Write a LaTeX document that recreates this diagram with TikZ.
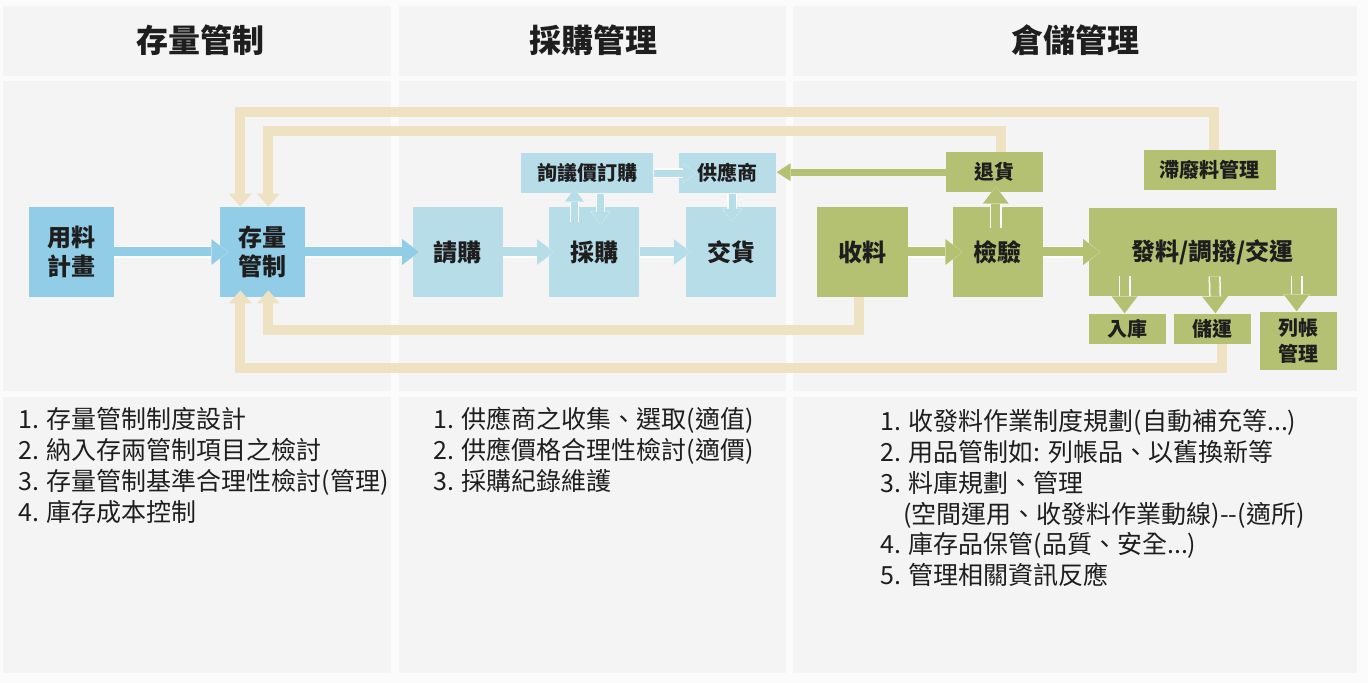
\documentclass[tikz,border=0pt]{standalone}
\usepackage{fontspec}
\setmainfont{Noto Sans CJK TC}
\usepackage{tikz}
\usetikzlibrary{positioning}
\usetikzlibrary{arrows.meta}
\definecolor{skyblue}{HTML}{92CDE8}
\definecolor{paleblue}{HTML}{B7DDE8}
\definecolor{olivegreen}{HTML}{B5C172}
\definecolor{sand}{HTML}{EEE2C3}
\definecolor{panel}{HTML}{F4F4F4}
\definecolor{gapwhite}{HTML}{FBFBFB}
\definecolor{ink}{HTML}{1E1E1E}
\tikzset {
  % filled boxes
  box/.style={inner sep=0pt, align=center, text=ink, font=\bfseries\fontsize{12}{14.5}\selectfont},
  bigbox/.style={box, minimum width=45pt, minimum height=45pt},
  smallbox/.style={box, minimum height=20pt, font=\bfseries\fontsize{10}{13}\selectfont},
  plan/.style={fill=skyblue},
  buy/.style={fill=paleblue},
  store/.style={fill=olivegreen},
  % fat arrows with a white rim
  blockarrow/.style={draw=#1, line width=4.5pt,
    -{Triangle[width=13pt, length=8.5pt, line width=0pt]},
    preaction={draw=white, line width=6pt,
      -{Triangle[width=13pt, length=8.5pt, line width=1.5pt]}}},
  smallarrow/.style={draw=#1, line width=3.4pt,
    -{Triangle[width=9.5pt, length=6.5pt, line width=0pt]},
    preaction={draw=white, line width=4.8pt,
      -{Triangle[width=9.5pt, length=6.5pt, line width=1.4pt]}}},
  % feedback lines back to the stock box
  feedback/.style={draw=sand, line width=5pt,
    -{Triangle[width=11.5pt, length=6.5pt, line width=0pt]}},
  returnline/.style={draw=olivegreen, line width=3.5pt,
    -{Triangle[width=9pt, length=7pt, line width=0pt]}},
  % texts
  head/.style={text=ink, font=\bfseries\fontsize{16}{19}\selectfont},
  list/.style={anchor=north west, inner sep=0pt, align=left, text=ink,
    font=\fontsize{12.5}{15.4}\selectfont},
}
\begin{document}
\begin{tikzpicture}[x=0.5pt, y=-0.5pt]
  \useasboundingbox (0,0) rectangle (1368,683);
  \fill[gapwhite] (0,0) rectangle (1368,683);
  \foreach \xa/\xb in {3/391, 399/786, 793/1357} {
    \foreach \ya/\yb in {6/76, 81/391, 397/673} {
      \fill[panel] (\xa,\ya) rectangle (\xb,\yb);
    }
  }

  \node[head] (h1) at (200,40) {存量管制};
  \node[head] (h2) at (593,40) {採購管理};
  \node[head] (h3) at (1075,40) {倉儲管理};

  \node[bigbox, plan, minimum width=42.5pt] (yl) at (71.5,252) {用料\\計畫};
  \node[bigbox, plan, minimum width=42.5pt, right=52.5pt of yl] (cl) {存量\\管制};
  \node[bigbox, buy, right=53.5pt of cl] (qg) {請購};
  \node[bigbox, buy, right=23pt of qg] (cg) {採購};
  \node[bigbox, buy, right=23pt of cg] (jh) {交貨};
  \node[smallbox, buy, minimum width=66pt, above=6.5pt of cg, xshift=-3.5pt] (xj) {詢議價訂購};
  \node[smallbox, buy, minimum width=48.5pt, above=6.5pt of jh, xshift=-1.75pt] (gy) {供應商};
  \node[bigbox, store, minimum width=45.5pt, right=20pt of jh] (sl) {收料};
  \node[bigbox, store, right=22pt of sl] (jy) {檢驗};
  \node[bigbox, store, minimum width=124pt, minimum height=44pt, right=22.5pt of jy] (fl) {發料/調撥/交運};
  \node[smallbox, store, minimum width=48.5pt, above=7pt of jy, xshift=-1.75pt] (th) {退貨};
  \node[smallbox, store, minimum width=66pt, above=8.5pt of fl, xshift=-1.5pt] (zf) {滯廢料管理};
  \node[smallbox, store, minimum width=38.5pt, minimum height=15pt, below right=8.5pt and 0pt of fl.south west] (rk) {入庫};
  \node[smallbox, store, minimum width=38.5pt, minimum height=15pt, right=4pt of rk] (cy) {儲運};
  \node[smallbox, store, minimum width=38.5pt, minimum height=29pt, below left=7.5pt and 0pt of fl.south east] (lz) {列帳\\管理};

  \draw[feedback] ([xshift=2pt]zf.north) -- ++(0,-38) -| ([xshift=-11pt]cl.north);
  \draw[feedback] ([xshift=3.5pt]th.north) -- ++(0,-21) -| ([xshift=3pt]cl.north);
  \draw[feedback] ([xshift=-2pt]sl.south) -- ++(0,33) -| ([xshift=3pt,yshift=3.5pt]cl.south);
  \draw[feedback] ([xshift=4.75pt]cy.south) -- ++(0,24) -| ([xshift=-11pt,yshift=3.5pt]cl.south);
  \draw[returnline] ([xshift=2pt]th.west) -- (th.west -| gy.east);

  \draw[blockarrow=skyblue] (yl) -- ([xshift=4.5pt]cl.west);
  \draw[blockarrow=skyblue] (cl) -- ([xshift=3.5pt]qg.west);
  \draw[blockarrow=paleblue] (qg) -- ([xshift=2.5pt]cg.west);
  \draw[blockarrow=paleblue] (cg) -- ([xshift=2.5pt]jh.west);
  \draw[smallarrow=paleblue] (xj) -- ([xshift=8.5pt]gy.west);
  \draw[smallarrow=paleblue] ([xshift=-10pt,yshift=-7.5pt]cg.north) -- ([xshift=-6.5pt,yshift=2.5pt]xj.south);
  \draw[smallarrow=paleblue] ([xshift=6.5pt]xj.south) -- ([xshift=3pt,yshift=-9pt]cg.north);
  \draw[smallarrow=paleblue] ([xshift=2.25pt]gy.south) -- ([xshift=0.5pt,yshift=-7.5pt]jh.north);
  \draw[blockarrow=olivegreen] (sl) -- ([xshift=5pt]jy.west);
  \draw[blockarrow=olivegreen] (jy) -- ([xshift=6pt]fl.west);
  \draw[blockarrow=olivegreen] ([xshift=-1pt,yshift=-10.5pt]jy.north) -- ([xshift=0.75pt,yshift=3pt]th.south);
  \draw[blockarrow=olivegreen] ([xshift=-44pt,yshift=10pt]fl.south) -- ([xshift=-1.25pt]rk.north);
  \draw[blockarrow=olivegreen] ([xshift=1pt,yshift=10pt]fl.south) -- ([xshift=1.25pt]cy.north);
  \draw[blockarrow=olivegreen] ([xshift=42pt,yshift=10pt]fl.south) -- ([xshift=-0.75pt]lz.north);

  \node[list] (n1) at (18,407) {1. 存量管制制度設計\\2. 納入存兩管制項目之檢討\\3. 存量管制基準合理性檢討(管理)\\4. 庫存成本控制};
  \node[list] (n2) at (433,407) {1. 供應商之收集、選取(適值)\\2. 供應價格合理性檢討(適價)\\3. 採購紀錄維護};
  \node[list] (n3) at (880,409) {1. 收發料作業制度規劃(自動補充等...)\\2. 用品管制如: 列帳品、以舊換新等\\3. 料庫規劃、管理\\\hspace*{11.5pt}(空間運用、收發料作業動線)-\kern0pt-(適所)\\4. 庫存品保管(品質、安全...)\\5. 管理相關資訊反應};
\end{tikzpicture}
\end{document}
